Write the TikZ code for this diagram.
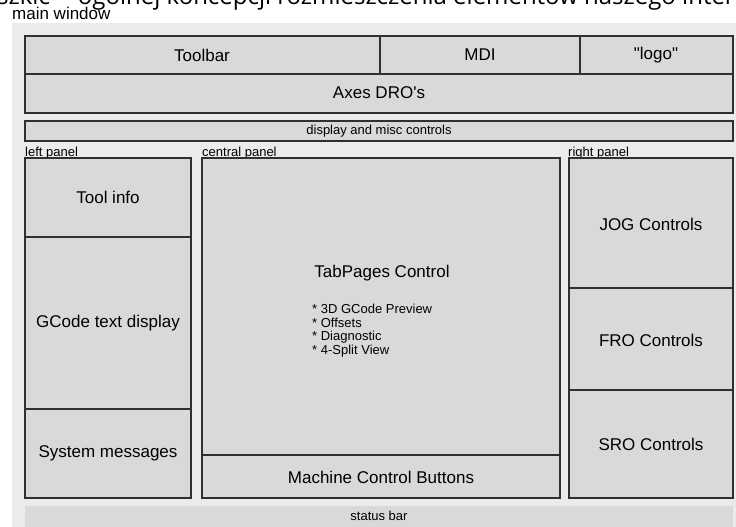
\documentclass[tikz,border=0pt]{standalone}
\usepackage{fontspec}
\setmainfont{Liberation Sans}[Ligatures=TeXOff]
\newfontfamily\titlefont{Open Sans}
\definecolor{winbg}{HTML}{EBEBEB}
\definecolor{boxfill}{HTML}{D9D9D9}
\definecolor{boxline}{HTML}{303030}

\begin{document}
\begin{tikzpicture}[x=1pt,y=-1pt,
  box/.style={draw=boxline,fill=boxfill,line width=1.3pt},
  big/.style={font=\fontsize{17}{19}\selectfont},
  small/.style={font=\fontsize{13}{15}\selectfont},
  paneltag/.style={font=\fontsize{13}{15}\selectfont,anchor=base west,inner sep=0pt}]

\useasboundingbox (0,0) rectangle (736,527);
\clip (0,0) rectangle (736,527);
\fill[white] (0,0) rectangle (736,527);

\coordinate (TL) at (25,36);
\coordinate (LP) at (25,158);
\coordinate (CP) at (202,158);
\coordinate (RP) at (569,158);

\node[font=\titlefont\fontsize{24}{28}\selectfont,anchor=base west,inner sep=0pt] (title) at (-3,5) {szkic -- ogólnej koncepcji rozmieszczenia elementów naszego interfejsu};
\node[font=\fontsize{17}{19}\selectfont,anchor=base west,inner sep=0pt] (mainlbl) at (12,20) {main window};

\fill[winbg] (12,23) rectangle (740,530);

\draw[box] (TL) rectangle (380,74);
\draw[box] (380,36) rectangle (580,74);
\draw[box] (580,36) rectangle (733,74);
\draw[box] (25,74) rectangle (733,113);
\draw[box] (25,121) rectangle (733,141);

\node[big] (toolbar) at (202,55) {Toolbar};
\node[big] (mdi) at (480,55) {MDI};
\node[big] (logo) at (656,55) {"logo"};
\node[big] (dro) at (379,93) {Axes DRO's};
\node[small] (misc) at (379,131) {display and misc controls};

\node[paneltag] (leftlbl) at (25,156) {left panel};
\node[paneltag] (centrallbl) at (202,156) {central panel};
\node[paneltag] (rightlbl) at (568,156) {right panel};

\draw[box] (LP) rectangle (191,237);
\draw[box] (25,237) rectangle (191,409);
\draw[box] (25,409) rectangle (191,498);
\node[big] (toolinfo) at (108,197) {Tool info};
\node[big] (gcode) at (108,323) {GCode text display};
\node[big] (sysmsg) at (108,453) {System messages};

\draw[box] (CP) rectangle (560,455);
\draw[box] (202,455) rectangle (560,498);
\node[big] (tabpages) at (382,273) {TabPages Control};
\node[font=\fontsize{13}{13.5}\selectfont,anchor=north west,align=left,inner sep=0pt] (tablist) at (312,304) {* 3D GCode Preview\\* Offsets\\* Diagnostic\\* 4-Split View};
\node[big] (machine) at (381,477) {Machine Control Buttons};

\draw[box] (RP) rectangle (733,288);
\draw[box] (569,288) rectangle (733,390);
\draw[box] (569,390) rectangle (733,498);
\node[big] (jog) at (651,224) {JOG Controls};
\node[big] (fro) at (651,340) {FRO Controls};
\node[big] (sro) at (651,444) {SRO Controls};

\fill[boxfill] (25,506) rectangle (733,530);
\node[small] (status) at (379,516) {status bar};

\end{tikzpicture}
\end{document}
